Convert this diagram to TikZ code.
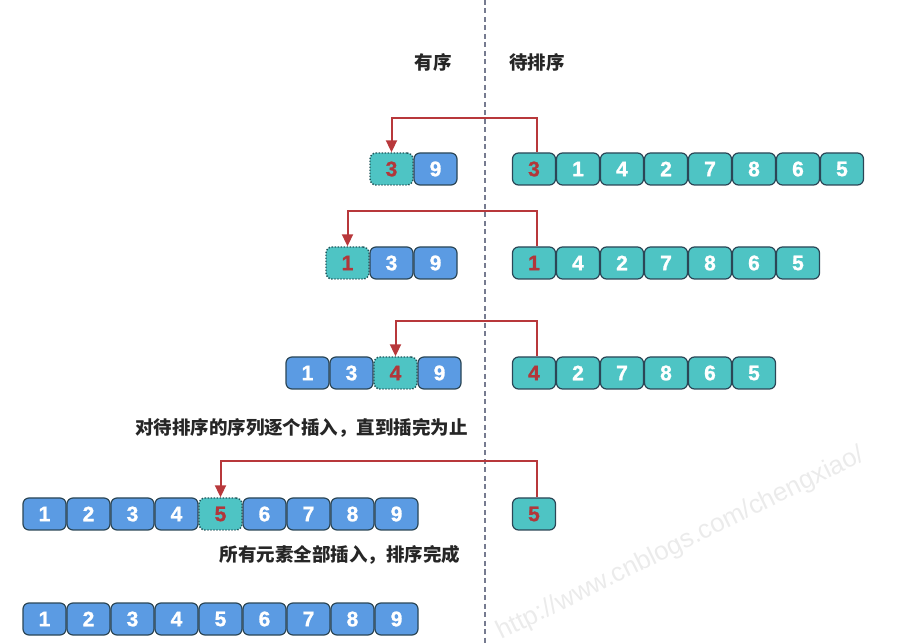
\documentclass[tikz,border=0pt]{standalone}
\usepackage{fontspec}
\setmainfont{Liberation Sans}
\newfontfamily\numfont{Liberation Sans}[UprightFont={* Bold}, UprightFeatures={FakeBold=1.2}]
\newfontfamily\cjk{Noto Sans CJK SC}
\usetikzlibrary{arrows.meta}
\definecolor{bluefill}{HTML}{5B9BE3}
\definecolor{tealfill}{HTML}{4EC4C4}
\definecolor{boxborder}{HTML}{2B4656}
\definecolor{dotborder}{HTML}{22565B}
\definecolor{reddigit}{HTML}{B2363A}
\definecolor{arrowred}{HTML}{B8383B}
\definecolor{dashcol}{HTML}{767B90}
\definecolor{wmark}{HTML}{EBEBEB}
\tikzset{
  x=1pt, y=1pt,
  cell/.style={rounded corners=6pt, minimum width=43pt, minimum height=32pt, inner sep=0pt,
    line width=1.2pt, font=\numfont\fontsize{21}{21}\selectfont, text=white},
  bbox/.style={cell, fill=bluefill, draw=boxborder},
  tbox/.style={cell, fill=tealfill, draw=boxborder},
  rbox/.style={cell, fill=tealfill, draw=boxborder, text=reddigit},
  dbox/.style={cell, fill=tealfill, draw=dotborder, line width=1.4pt, dash pattern=on 1.4pt off 1.6pt, text=reddigit},
  arr/.style={draw=arrowred, line width=2pt, -{Triangle[length=12pt,width=11pt]}},
  lbl/.style={font=\cjk\bfseries\fontsize{18.5}{18.5}\selectfont, text=black!85, inner sep=0pt},
}
\begin{document}
\begin{tikzpicture}
\useasboundingbox (0,0) rectangle (898,-644);
% watermark
\node[rotate=26.3, text=wmark, font=\fontsize{26}{26}\selectfont, inner sep=0pt] (wm) at (681,-544) {http://www.cnblogs.com/chengxiao/};
% divider
\coordinate (dtop) at (485,0);
\coordinate (dbot) at (485,-644);
\draw[dashcol, line width=1.1pt, dash pattern=on 5pt off 3.5pt] (dtop) -- (dbot);
% headers
\node[lbl] (h1) at (433,-62) {有序};
\node[lbl] (h2) at (537,-62) {待排序};
% row 1
\node[dbox] (a1) at (391.5,-169) {3};
\node[bbox] (a2) at (435.5,-169) {9};
\node[rbox] (s1) at (534,-169) {3};
\foreach \v [count=\i] in {1,4,2,7,8,6,5}
  \node[tbox] (s1n\i) at ({534+44*\i},-169) {\v};
% row 2
\node[dbox] (b1) at (347.5,-263) {1};
\node[bbox] (b2) at (391.5,-263) {3};
\node[bbox] (b3) at (435.5,-263) {9};
\node[rbox] (s2) at (534,-263) {1};
\foreach \v [count=\i] in {4,2,7,8,6,5}
  \node[tbox] (s2n\i) at ({534+44*\i},-263) {\v};
% row 3
\node[bbox] (c1) at (307.5,-373) {1};
\node[bbox] (c2) at (351.5,-373) {3};
\node[dbox] (c3) at (395.5,-373) {4};
\node[bbox] (c4) at (439.5,-373) {9};
\node[rbox] (s3) at (534,-373) {4};
\foreach \v [count=\i] in {2,7,8,6,5}
  \node[tbox] (s3n\i) at ({534+44*\i},-373) {\v};
% caption 1
\node[lbl] (t1) at (301.5,-428) {对待排序的序列逐个插入，直到插完为止};
% row 4
\foreach \v [count=\i] in {1,2,3,4}
  \node[bbox] (d\i) at ({0.5+44*\i},-514) {\v};
\node[dbox] (d5) at (220.5,-514) {5};
\foreach \v [count=\i from 6] in {6,7,8,9}
  \node[bbox] (d\i) at ({0.5+44*\i},-514) {\v};
\node[rbox] (s4) at (534,-514) {5};
% caption 2
\node[lbl] (t2) at (340,-555) {所有元素全部插入，排序完成};
% row 5
\foreach \v [count=\i] in {1,2,3,4,5,6,7,8,9}
  \node[bbox] (e\i) at ({0.5+44*\i},-619) {\v};
% arrows
\draw[arr] ([xshift=3pt]s1.north) -- ++(0,34) -| (a1.north);
\draw[arr] ([xshift=3pt]s2.north) -- ++(0,35) -| (b1.north);
\draw[arr] ([xshift=3pt]s3.north) -- ++(0,35) -| (c3.north);
\draw[arr] ([xshift=3pt]s4.north) -- ++(0,36) -| (d5.north);
\end{tikzpicture}
\end{document}
